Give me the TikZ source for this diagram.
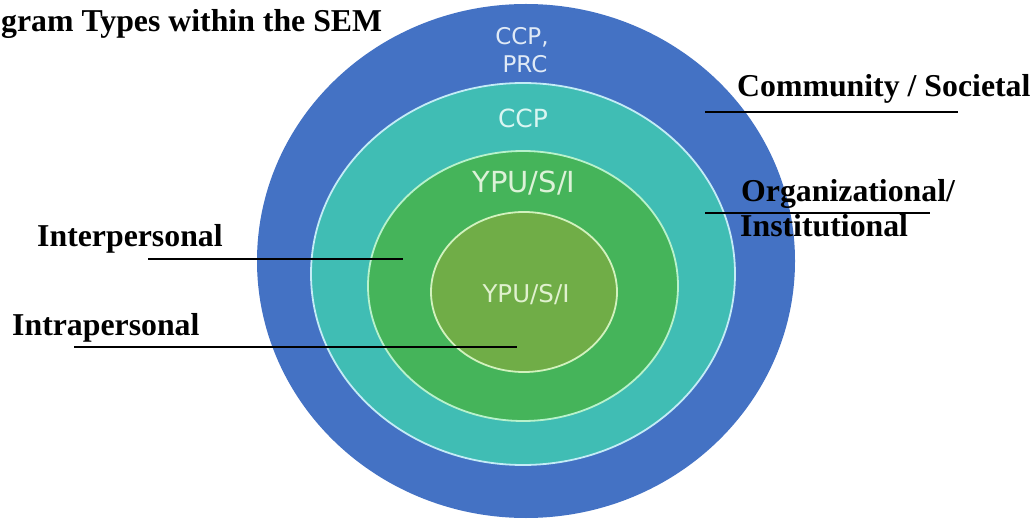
\documentclass[tikz,border=0pt]{standalone}
\usepackage{fontspec}
\setmainfont{Liberation Serif}
\newfontfamily\semsans{DejaVu Sans}
\definecolor{lvlblue}{HTML}{4472C4}
\definecolor{lvlteal}{HTML}{40BDB4}
\definecolor{lvlgreen}{HTML}{45B45A}
\definecolor{lvlolive}{HTML}{70AD47}
\definecolor{rimteal}{HTML}{C4ECF6}
\definecolor{rimgreen}{HTML}{B8F2CC}
\definecolor{rimolive}{HTML}{D2F2BE}
\definecolor{txtblue}{HTML}{E0EAF6}
\definecolor{txtteal}{HTML}{DAF6F2}
\definecolor{txtgreen}{HTML}{DCF2D8}
\definecolor{txtolive}{HTML}{E0F1CF}
\tikzset{
  levellabel/.style={font=\bfseries\fontsize{31.8}{34}\selectfont, inner sep=0pt, anchor=base west, text=black},
  ringtext/.style={font=\semsans, inner sep=0pt, anchor=base},
  leader/.style={draw=black, line width=1.1pt},
}
\begin{document}
\begin{tikzpicture}[x=1pt,y=-1pt]
\useasboundingbox (0,0) rectangle (1036,521);
% rings
\fill[lvlblue] (526,261) ellipse [x radius=269, y radius=257];
\filldraw[fill=lvlteal, draw=rimteal, line width=1.8pt] (523,274) ellipse [x radius=212, y radius=191];
\filldraw[fill=lvlgreen, draw=rimgreen, line width=1.8pt] (523,286) ellipse [x radius=155, y radius=135];
\filldraw[fill=lvlolive, draw=rimolive, line width=1.8pt] (524,292) ellipse [x radius=93, y radius=80];
% ring texts
\node[ringtext, text=txtblue, font=\semsans\fontsize{23}{26}\selectfont] (t1a) at (522,45) {CCP,};
\node[ringtext, text=txtblue, font=\semsans\fontsize{23}{26}\selectfont] (t1b) at (525,73) {PRC};
\node[ringtext, text=txtteal, font=\semsans\fontsize{25}{28}\selectfont] (t2) at (523,128) {CCP};
\node[ringtext, text=txtgreen, font=\semsans\fontsize{29}{32}\selectfont] (t3) at (524,193) {YPU/S/I};
\node[ringtext, text=txtolive, font=\semsans\fontsize{24.5}{27}\selectfont] (t4) at (526,302) {YPU/S/I};
% title
\node[levellabel, anchor=base west, font=\bfseries\fontsize{31.8}{35}\selectfont] (title) at (1,32) {gram Types within the SEM};
% level labels
\node[levellabel] (comm) at (737,97) {Community / Societal};
\node[levellabel] (org) at (741,202) {Organizational/};
\node[levellabel] (inst) at (740,237) {Institutional};
\node[levellabel] (inter) at (37,247) {Interpersonal};
\node[levellabel] (intra) at (12,335) {Intrapersonal};
% leader lines
\coordinate (commA) at (705,112); \coordinate (commB) at (958,112);
\coordinate (orgA) at (705,213); \coordinate (orgB) at (930,213);
\coordinate (interA) at (148,259); \coordinate (interB) at (403,259);
\coordinate (intraA) at (74,347); \coordinate (intraB) at (517,347);
\draw[leader] (commA) -- (commB);
\draw[leader] (orgA) -- (orgB);
\draw[leader] (interA) -- (interB);
\draw[leader] (intraA) -- (intraB);
\end{tikzpicture}
\end{document}
